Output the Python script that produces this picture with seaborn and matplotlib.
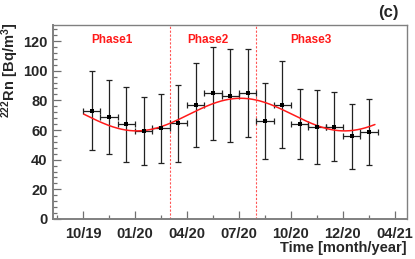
import numpy as np
import pandas as pd
import matplotlib
matplotlib.use("Agg")
import matplotlib.pyplot as plt
import seaborn as sns

# ---- data (x in months since 1 Oct 2019) ----
months = [0.5, 1.5, 2.5, 3.5, 4.5, 5.5, 6.5, 7.5, 8.5, 9.5, 10.5, 11.5, 12.5, 13.5, 14.5, 15.5, 16.5]
radon = [73.0, 68.6, 63.8, 59.6, 61.1, 64.7, 76.9, 84.8, 83.2, 84.8, 66.1, 76.7, 64.1, 62.0, 62.2, 55.8, 58.9]
err_up = [99.8, 93.5, 88.8, 82.0, 84.0, 90.2, 105.4, 115.8, 114.8, 114.4, 91.5, 106.3, 87.7, 87.0, 85.4, 77.3, 81.1]
err_lo = [46.5, 43.6, 38.7, 36.4, 37.5, 38.7, 48.5, 53.3, 51.7, 55.1, 40.3, 47.7, 40.5, 36.9, 39.1, 33.7, 36.4]
x_half_width = 0.5

# sinusoidal fit parameters
fit_mean = 70.4
fit_amp = 11.0
fit_period = 12.0
fit_peak = 9.1
fit_start, fit_end = 0.05, 16.85

phase_bounds = [5.0, 10.0]
phase_labels = ["Phase1", "Phase2", "Phase3"]
phase_label_x = [1.67, 7.2, 13.15]

tick_pos = [0, 3, 6, 9, 12, 15, 18]
tick_labels = ["10/19", "01/20", "04/20", "07/20", "10/20", "12/20", "04/21"]

# ---- style ----
sns.set_style("ticks")
plt.rcParams['font.family'] = ['Liberation Sans', 'DejaVu Sans']
plt.rcParams['mathtext.fontset'] = 'custom'
plt.rcParams['mathtext.bf'] = 'Liberation Sans:bold'
plt.rcParams['mathtext.rm'] = 'Liberation Sans:bold'
plt.rcParams['mathtext.default'] = 'bf'

fig = plt.figure(figsize=(4.15, 2.59), dpi=100)
ax = fig.add_axes([53/415, 40/259, 354/415, 194/259])

df = pd.DataFrame({"month": months, "radon": radon})
lo = np.array(radon) - np.array(err_lo)
hi = np.array(err_up) - np.array(radon)

ax.errorbar(months, radon, yerr=[lo, hi], xerr=x_half_width, fmt='none',
            ecolor='#222222', elinewidth=0.9, capsize=2, capthick=0.9, zorder=2)
sns.scatterplot(data=df, x="month", y="radon", ax=ax, marker='s', s=9,
                color='black', edgecolor='black', linewidth=0, zorder=4)

t = np.linspace(fit_start, fit_end, 300)
fit = fit_mean + fit_amp * np.cos(2 * np.pi * (t - fit_peak) / fit_period)
sns.lineplot(x=t, y=fit, ax=ax, color='#ff1a1a', linewidth=1.1, zorder=3)

for b in phase_bounds:
    ax.axvline(b, color='#ff5555', linestyle=(0, (2, 1.5)), linewidth=0.8, zorder=1)
for lx, lab in zip(phase_label_x, phase_labels):
    ax.text(lx, 121, lab, color='#ff1a1a', fontsize=8.5, fontweight='bold',
            ha='center', va='center')

ax.set_xlim(-1.73, 18.7)
ax.set_ylim(0, 130.8)
ax.set_xticks(tick_pos)
ax.set_xticklabels(tick_labels)
ax.set_xticks(np.arange(-1.5, 18.7, 1.5), minor=True)
ax.set_yticks(np.arange(0, 121, 20))
ax.set_yticks(np.arange(0, 130, 4), minor=True)
ax.tick_params(axis='both', which='major', direction='in', length=6, width=0.9,
               color='#707070', labelsize=10.5, pad=4)
ax.tick_params(axis='both', which='minor', direction='in', length=3, width=0.9,
               color='#707070')
for lab in ax.get_xticklabels() + ax.get_yticklabels():
    lab.set_fontweight('bold')
ax.tick_params(axis='x', pad=6)

for side in ['left', 'bottom']:
    ax.spines[side].set_color('#808080')
    ax.spines[side].set_linewidth(1.4)
for side in ['top', 'right']:
    ax.spines[side].set_visible(True)
    ax.spines[side].set_color('#808080')
    ax.spines[side].set_linewidth(1.0)

ax.set_xlabel("")
ax.set_ylabel("")
fig.text(10/415, 1 - 70/259, r"$\mathbf{^{222}Rn\ [Bq/m^{3}]}$", rotation=90,
         fontsize=10.5, ha='center', va='center')
fig.text(407/415, 1 - 248/259, "Time [month/year]", fontsize=10.5,
         fontweight='bold', ha='right', va='center')
fig.text(388/415, 1 - 13/259, "(c)", fontsize=12, fontweight='bold',
         ha='center', va='center')

fig.savefig("out.png", dpi=100)
